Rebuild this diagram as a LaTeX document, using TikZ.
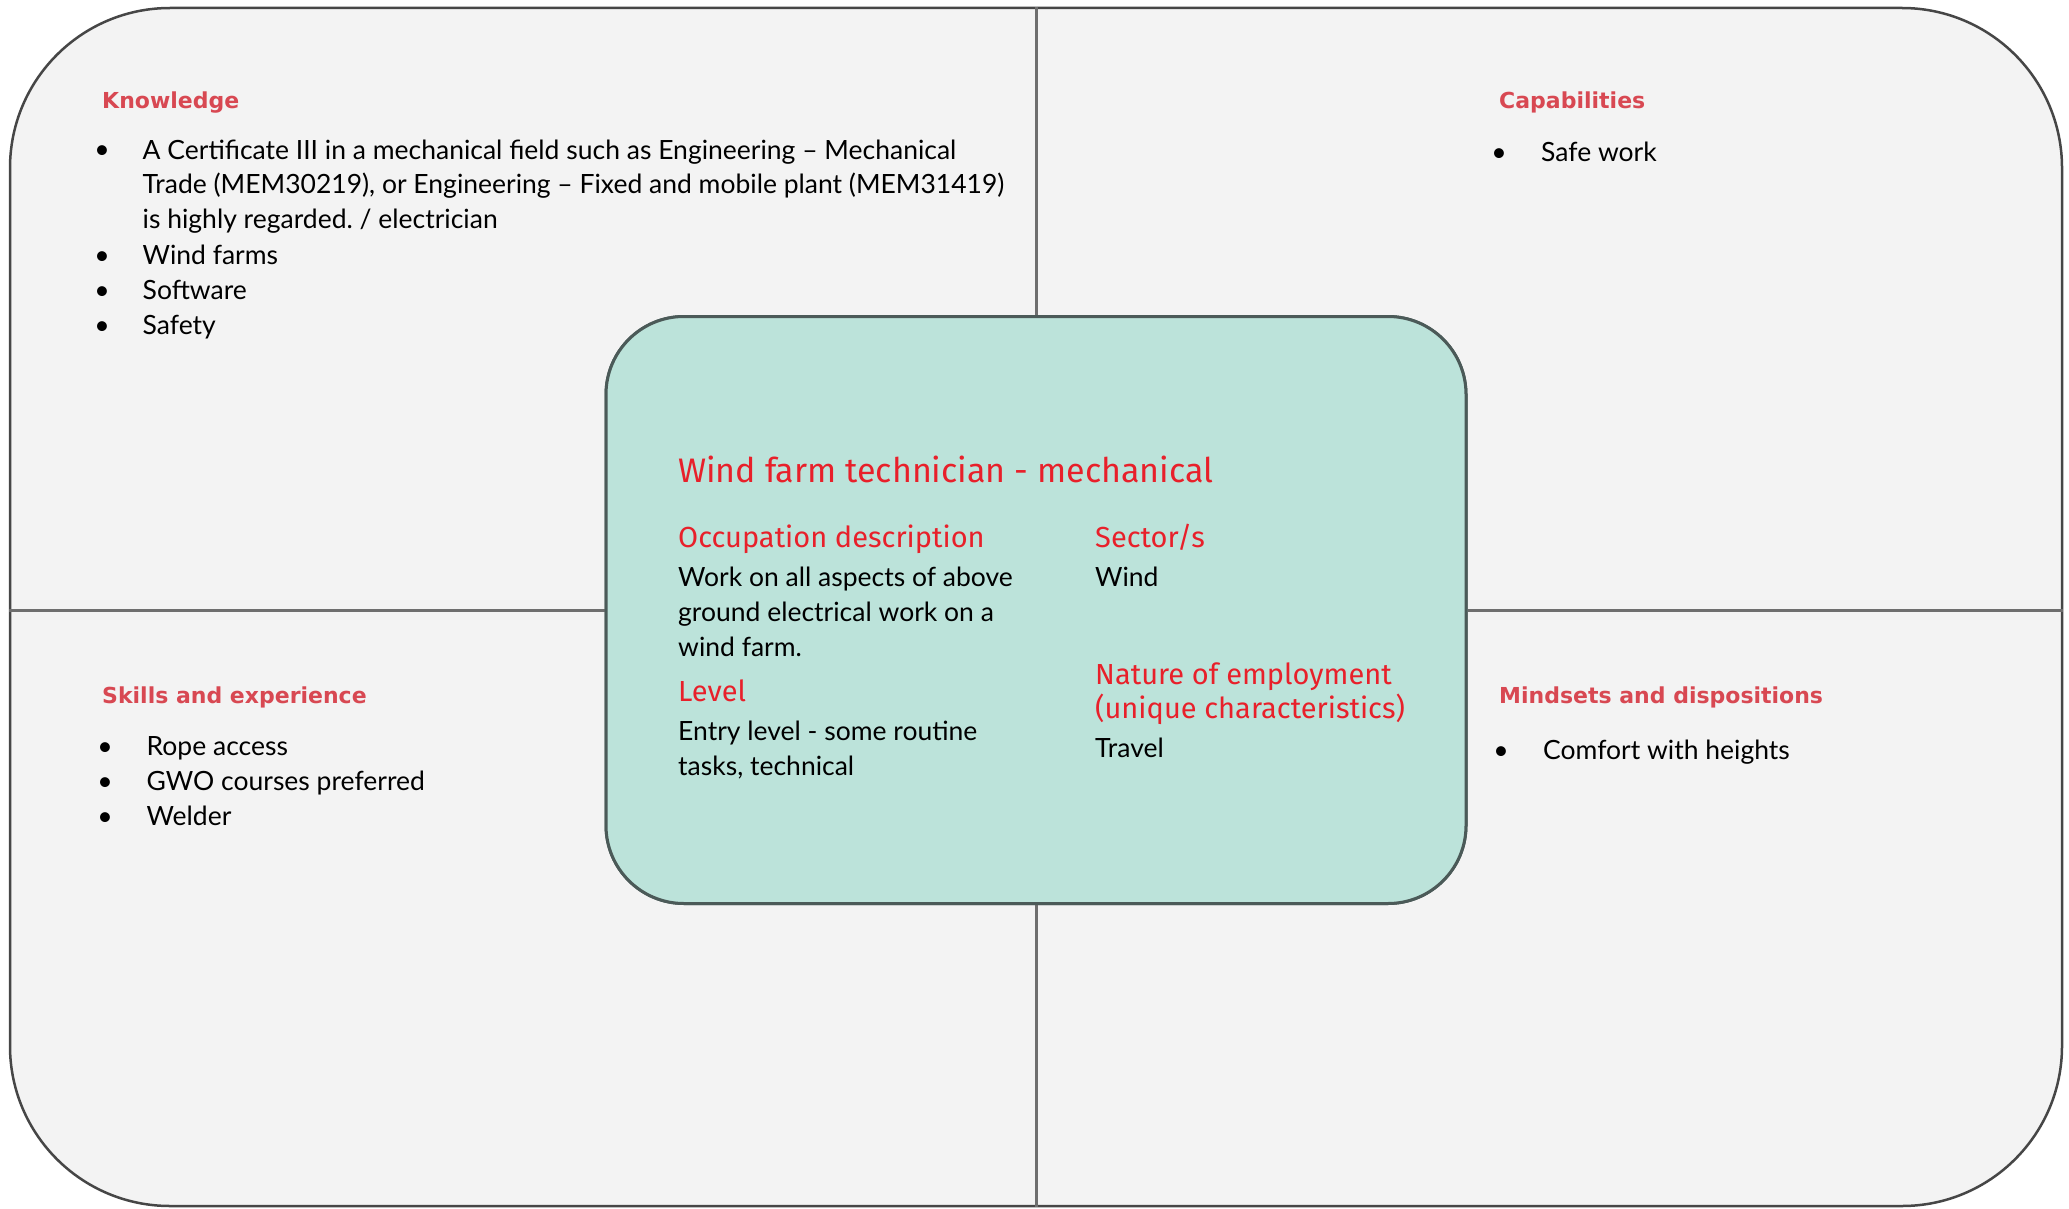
\documentclass[tikz,border=0pt]{standalone}
\usepackage{fontspec}
\setmainfont{Lato}
\newfontfamily\headfont{DejaVu Sans}
\newfontfamily\cardfont{Fira Sans}
\frenchspacing
\definecolor{panelfill}{RGB}{243,243,243}
\definecolor{panelline}{RGB}{70,70,70}
\definecolor{divline}{RGB}{110,110,110}
\definecolor{cardfill}{RGB}{188,227,218}
\definecolor{cardline}{RGB}{75,90,88}
\definecolor{quadred}{RGB}{216,72,82}
\definecolor{cardred}{RGB}{232,32,42}
\begin{document}
\begin{tikzpicture}[x=1pt,y=-1pt,
  panel/.style={draw=panelline, line width=2.5pt, fill=panelfill, rounded corners=160pt,
    minimum width=2052pt, minimum height=1198pt, inner sep=0pt},
  card/.style={draw=cardline, line width=3pt, fill=cardfill, rounded corners=78pt,
    minimum width=860pt, minimum height=587pt, inner sep=0pt},
  divider/.style={draw=divline, line width=3pt},
  quadhead/.style={font=\headfont\bfseries\fontsize{22}{26}\selectfont, text=quadred, anchor=base west, inner sep=0pt},
  item/.style={font=\fontsize{26.5}{35}\selectfont, anchor=base west, inner sep=0pt, align=left},
  dot/.style={font=\fontsize{26.5}{35}\selectfont, anchor=base, inner sep=0pt},
  cardtitle/.style={font=\cardfont\fontsize{34}{38}\selectfont, text=cardred, anchor=base west, inner sep=0pt},
  cardhead/.style={font=\cardfont\fontsize{29}{34}\selectfont, text=cardred, anchor=base west, inner sep=0pt, align=left},
  cardtext/.style={font=\fontsize{26.5}{35}\selectfont, anchor=base west, inner sep=0pt, align=left}
]
\useasboundingbox (0,0) rectangle (2069,1209);

% outer panel and central card
\node[panel] (outer) at (1036,607) {};
\node[card] (card) at (1036,610) {};
\draw[divider] (outer.north) -- (card.north);
\draw[divider] (card.south) -- (outer.south);
\draw[divider] (outer.west |- card.west) -- (card.west);
\draw[divider] (card.east) -- (outer.east |- card.east);
\node[card] at (card.center) {};

% Knowledge (multi-line nodes are placed by the baseline of their last line)
\node[quadhead] (knowhead) at (102,109) {Knowledge};
\node[dot] (kd1) at (102,159) {•};
\node[item] (k1) at (142.5,229) {A Certificate III in a mechanical field such as Engineering – Mechanical\\Trade (MEM30219), or Engineering – Fixed and mobile plant (MEM31419)\\is highly regarded. / electrician};
\node[dot] (kd2) at (102,264) {•};
\node[item] (k2) at (142.5,264) {Wind farms};
\node[dot] (kd3) at (102,299) {•};
\node[item] (k3) at (142.5,299) {Software};
\node[dot] (kd4) at (102,334) {•};
\node[item] (k4) at (142.5,334) {Safety};

% Capabilities
\node[quadhead] (caphead) at (1499,109) {Capabilities};
\node[dot] (cd1) at (1499,162) {•};
\node[item] (c1) at (1541,162) {Safe work};

% Skills and experience
\node[quadhead] (skillhead) at (102,703) {Skills and experience};
\node[dot] (sd1) at (105,755) {•};
\node[item] (s1) at (146.5,755) {Rope access};
\node[dot] (sd2) at (105,790) {•};
\node[item] (s2) at (146.5,790) {GWO courses preferred};
\node[dot] (sd3) at (105,825) {•};
\node[item] (s3) at (146.5,825) {Welder};

% Mindsets and dispositions
\node[quadhead] (mindhead) at (1499,703) {Mindsets and dispositions};
\node[dot] (md1) at (1501,759) {•};
\node[item] (m1) at (1543,759) {Comfort with heights};

% card contents
\node[cardtitle] (title) at (678,482) {Wind farm technician - mechanical};
\node[cardhead] (occhead) at (678,547) {Occupation description};
\node[cardtext] (occ) at (678,656) {Work on all aspects of above\\ground electrical work on a\\wind farm.};
\node[cardhead] (levhead) at (678,701) {Level};
\node[cardtext] (lev) at (678,775) {Entry level - some routine\\tasks, technical};
\node[cardhead] (sechead) at (1095,547) {Sector/s};
\node[cardtext] (sec) at (1095,586) {Wind};
\node[cardhead] (emphead) at (1095,718) {Nature of employment\\(unique characteristics)};
\node[cardtext] (emp) at (1095,757) {Travel};
\end{tikzpicture}
\end{document}
